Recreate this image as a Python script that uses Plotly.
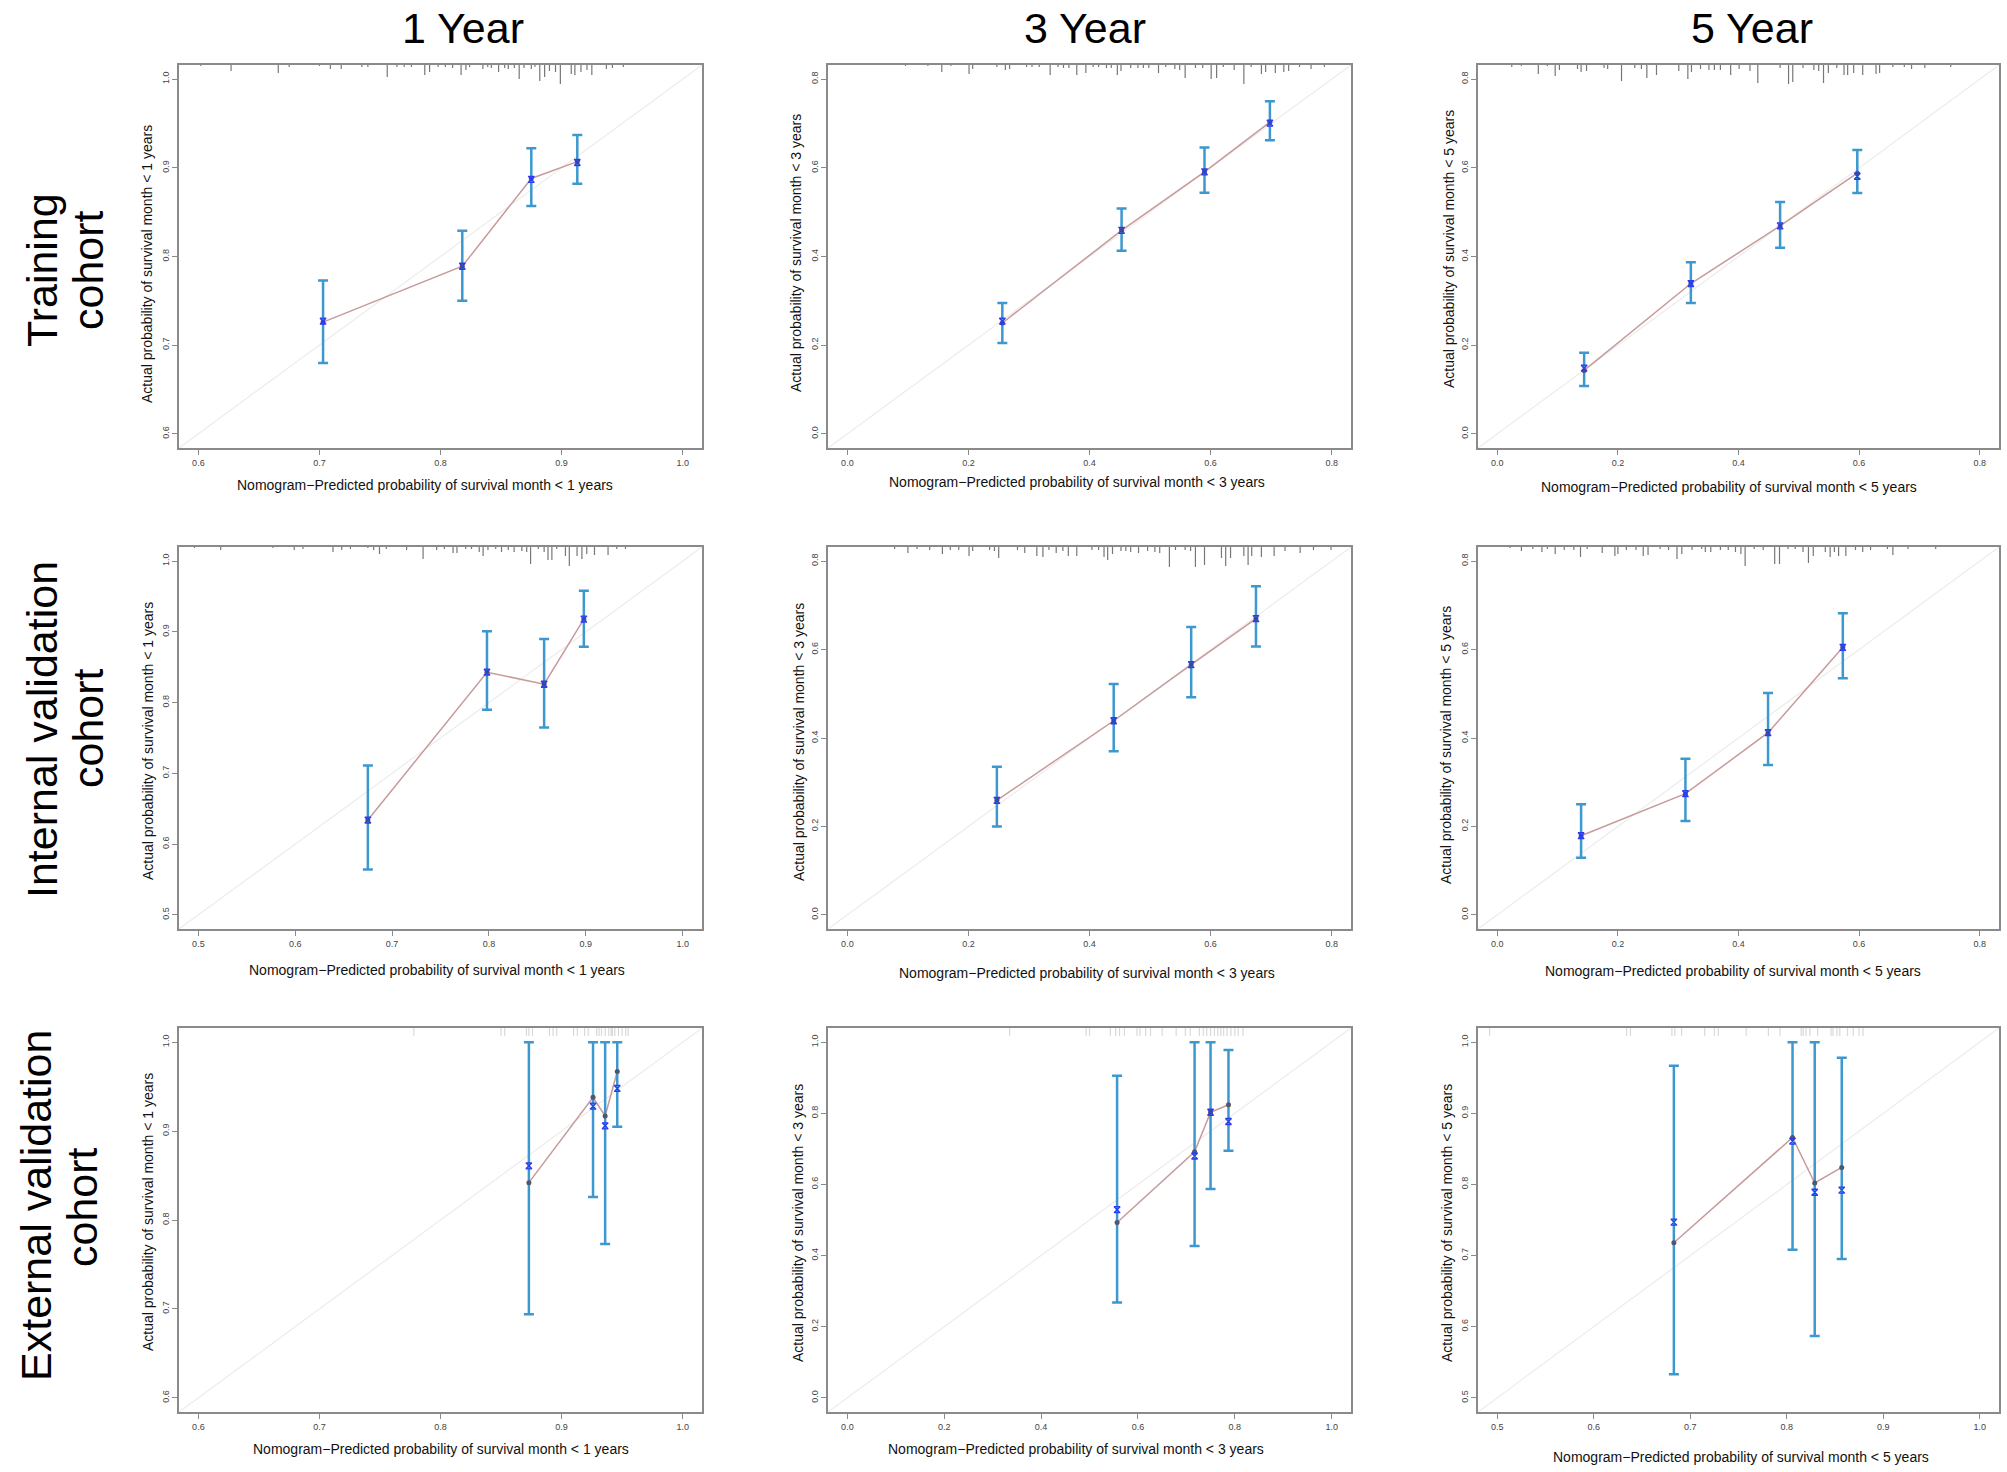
import plotly.graph_objects as go

# ====================== DATA ======================
col_titles = ["1 Year", "3 Year", "5 Year"]
row_title_lines = [["Training", "cohort"],
                   ["Internal validation", "cohort"],
                   ["External validation", "cohort"]]
horizon_labels = ["1", "3", "5"]

# axis limits (R adds 4% padding) and tick values, per column/row
lim_t = [[0.6, 1.0], [0.0, 0.8], [0.0, 0.8]]
lim_i = [[0.5, 1.0], [0.0, 0.8], [0.0, 0.8]]
lim_e = [[0.6, 1.0], [0.0, 1.0], [0.5, 1.0]]
ticks_t = [[0.6, 0.7, 0.8, 0.9, 1.0], [0.0, 0.2, 0.4, 0.6, 0.8], [0.0, 0.2, 0.4, 0.6, 0.8]]
ticks_i = [[0.5, 0.6, 0.7, 0.8, 0.9, 1.0], [0.0, 0.2, 0.4, 0.6, 0.8], [0.0, 0.2, 0.4, 0.6, 0.8]]
ticks_e = [[0.6, 0.7, 0.8, 0.9, 1.0], [0.0, 0.2, 0.4, 0.6, 0.8, 1.0], [0.5, 0.6, 0.7, 0.8, 0.9, 1.0]]

# ---- Training cohort ----
t1_pred = [0.703, 0.818, 0.875, 0.913]
t1_obs = [0.726, 0.789, 0.888, 0.907]
t1_corr = [0.727, 0.789, 0.887, 0.906]
t1_lo = [0.680, 0.750, 0.857, 0.882]
t1_hi = [0.773, 0.829, 0.922, 0.937]
t1_rug_x = [0.602, 0.627, 0.666, 0.675, 0.700, 0.709, 0.718, 0.735, 0.740, 0.756, 0.764, 0.770,
            0.776, 0.787, 0.791, 0.798, 0.804, 0.810, 0.817, 0.821, 0.824, 0.835, 0.839, 0.842,
            0.848, 0.853, 0.856, 0.861, 0.865, 0.869, 0.875, 0.878, 0.882, 0.886, 0.890, 0.895,
            0.899, 0.908, 0.911, 0.916, 0.921, 0.925, 0.937, 0.942, 0.951]
t1_rug_n = [1, 6, 8, 2, 1, 4, 4, 2, 2, 12, 2, 2, 2, 10, 7, 2, 2, 3, 10, 5, 2, 4, 2, 3, 7, 3, 4, 3,
            14, 3, 4, 2, 16, 12, 6, 7, 19, 9, 10, 7, 5, 10, 4, 3, 2]

t3_pred = [0.256, 0.453, 0.590, 0.698]
t3_obs = [0.250, 0.459, 0.591, 0.703]
t3_corr = [0.254, 0.459, 0.591, 0.701]
t3_lo = [0.205, 0.413, 0.544, 0.662]
t3_hi = [0.295, 0.508, 0.646, 0.750]
t3_rug_x = [0.096, 0.133, 0.156, 0.171, 0.201, 0.207, 0.247, 0.261, 0.268, 0.296, 0.305, 0.317,
            0.335, 0.348, 0.357, 0.366, 0.379, 0.394, 0.406, 0.415, 0.428, 0.436, 0.446, 0.452,
            0.468, 0.480, 0.489, 0.498, 0.514, 0.526, 0.541, 0.549, 0.558, 0.575, 0.587, 0.601,
            0.610, 0.621, 0.639, 0.655, 0.667, 0.684, 0.691, 0.707, 0.721, 0.729, 0.747, 0.766, 0.788]
t3_rug_n = [1, 1, 7, 1, 9, 4, 2, 5, 4, 2, 2, 2, 10, 2, 3, 3, 10, 8, 2, 2, 3, 3, 10, 6, 3, 3, 3, 3,
            8, 2, 4, 5, 13, 3, 3, 14, 13, 2, 5, 19, 2, 9, 7, 8, 7, 6, 2, 4, 2]

t5_pred = [0.144, 0.321, 0.469, 0.597]
t5_obs = [0.143, 0.339, 0.469, 0.588]
t5_corr = [0.148, 0.339, 0.469, 0.581]
t5_lo = [0.108, 0.295, 0.420, 0.543]
t5_hi = [0.183, 0.387, 0.523, 0.640]
t5_rug_x = [0.024, 0.040, 0.068, 0.083, 0.096, 0.103, 0.133, 0.139, 0.148, 0.177, 0.183, 0.206,
            0.228, 0.239, 0.248, 0.264, 0.301, 0.316, 0.322, 0.337, 0.351, 0.360, 0.370, 0.387,
            0.401, 0.419, 0.432, 0.469, 0.483, 0.490, 0.507, 0.525, 0.533, 0.541, 0.549, 0.563,
            0.575, 0.581, 0.591, 0.606, 0.628, 0.634, 0.656, 0.675, 0.687, 0.709, 0.752]
t5_rug_n = [2, 1, 9, 1, 11, 5, 4, 7, 6, 3, 4, 16, 3, 4, 13, 10, 6, 14, 7, 4, 5, 5, 5, 10, 4, 6, 18,
            3, 19, 17, 3, 5, 6, 18, 8, 3, 10, 10, 8, 10, 9, 8, 2, 2, 4, 3, 2]

# ---- Internal validation cohort ----
i1_pred = [0.675, 0.798, 0.857, 0.898]
i1_obs = [0.634, 0.843, 0.826, 0.918]
i1_corr = [0.634, 0.843, 0.826, 0.918]
i1_lo = [0.564, 0.790, 0.765, 0.879]
i1_hi = [0.711, 0.901, 0.890, 0.958]
i1_rug_x = [0.496, 0.523, 0.577, 0.599, 0.608, 0.639, 0.648, 0.657, 0.675, 0.681, 0.687, 0.694,
            0.715, 0.732, 0.746, 0.754, 0.763, 0.767, 0.776, 0.782, 0.790, 0.794, 0.799, 0.807,
            0.813, 0.820, 0.826, 0.834, 0.839, 0.843, 0.851, 0.857, 0.861, 0.865, 0.870, 0.879,
            0.883, 0.891, 0.896, 0.901, 0.909, 0.923, 0.932, 0.941]
i1_rug_n = [1, 3, 1, 3, 2, 5, 3, 2, 1, 3, 7, 2, 3, 12, 3, 2, 6, 6, 2, 2, 5, 9, 3, 2, 5, 3, 5, 4, 5,
            17, 2, 5, 13, 13, 2, 9, 19, 9, 12, 7, 8, 8, 2, 2]

i3_pred = [0.247, 0.440, 0.568, 0.675]
i3_obs = [0.259, 0.439, 0.566, 0.670]
i3_corr = [0.259, 0.439, 0.566, 0.670]
i3_lo = [0.200, 0.370, 0.492, 0.607]
i3_hi = [0.335, 0.522, 0.651, 0.743]
i3_rug_x = [0.078, 0.100, 0.115, 0.136, 0.157, 0.170, 0.184, 0.201, 0.207, 0.235, 0.243, 0.250,
            0.281, 0.293, 0.313, 0.323, 0.333, 0.345, 0.356, 0.365, 0.379, 0.404, 0.415, 0.424,
            0.430, 0.438, 0.452, 0.460, 0.468, 0.481, 0.496, 0.508, 0.516, 0.532, 0.542, 0.558,
            0.567, 0.575, 0.590, 0.618, 0.625, 0.633, 0.655, 0.662, 0.668, 0.684, 0.705, 0.723,
            0.748, 0.770, 0.799]
i3_rug_n = [2, 6, 2, 3, 7, 3, 3, 9, 4, 3, 4, 11, 3, 6, 9, 10, 3, 6, 4, 9, 9, 3, 3, 10, 13, 7, 4, 4,
            5, 6, 4, 5, 6, 20, 3, 3, 4, 20, 18, 11, 19, 11, 9, 18, 9, 10, 9, 4, 6, 3, 3]

i5_pred = [0.139, 0.312, 0.449, 0.573]
i5_obs = [0.179, 0.274, 0.412, 0.605]
i5_corr = [0.179, 0.274, 0.412, 0.605]
i5_lo = [0.129, 0.212, 0.339, 0.535]
i5_hi = [0.250, 0.353, 0.502, 0.682]
i5_rug_x = [0.021, 0.040, 0.059, 0.074, 0.083, 0.096, 0.111, 0.127, 0.138, 0.149, 0.174, 0.195,
            0.200, 0.214, 0.230, 0.242, 0.250, 0.270, 0.284, 0.298, 0.306, 0.323, 0.339, 0.345,
            0.354, 0.370, 0.383, 0.395, 0.404, 0.411, 0.426, 0.441, 0.460, 0.468, 0.482, 0.494,
            0.507, 0.516, 0.524, 0.544, 0.552, 0.559, 0.566, 0.578, 0.594, 0.606, 0.619, 0.647,
            0.656, 0.681, 0.727]
i5_rug_n = [1, 4, 2, 5, 2, 7, 3, 3, 10, 2, 6, 9, 7, 3, 3, 9, 8, 2, 3, 12, 7, 3, 2, 5, 5, 3, 3, 5, 7,
            19, 2, 3, 17, 17, 2, 2, 5, 16, 9, 5, 10, 5, 9, 9, 3, 5, 3, 2, 8, 2, 2]

# ---- External validation cohort ----
e1_pred = [0.873, 0.926, 0.936, 0.946]
e1_obs = [0.842, 0.938, 0.917, 0.967]
e1_corr = [0.861, 0.928, 0.906, 0.948]
e1_lo = [0.694, 0.826, 0.773, 0.905]
e1_hi = [1.000, 1.000, 1.000, 1.000]
e1_rug_x = [0.778, 0.850, 0.853, 0.871, 0.873, 0.876, 0.890, 0.893, 0.896, 0.910, 0.913, 0.919,
            0.922, 0.929, 0.931, 0.933, 0.936, 0.939, 0.941, 0.942, 0.944, 0.947, 0.950, 0.953, 0.955]

e3_pred = [0.557, 0.717, 0.750, 0.787]
e3_obs = [0.493, 0.692, 0.803, 0.824]
e3_corr = [0.529, 0.680, 0.803, 0.777]
e3_lo = [0.268, 0.427, 0.587, 0.695]
e3_hi = [0.906, 1.000, 1.000, 0.978]
e3_rug_x = [0.335, 0.493, 0.500, 0.543, 0.554, 0.562, 0.572, 0.598, 0.604, 0.616, 0.626, 0.650,
            0.679, 0.698, 0.708, 0.727, 0.735, 0.742, 0.750, 0.758, 0.765, 0.771, 0.777, 0.784,
            0.792, 0.800, 0.807, 0.817]

e5_pred = [0.683, 0.806, 0.829, 0.857]
e5_obs = [0.718, 0.866, 0.802, 0.824]
e5_corr = [0.747, 0.861, 0.789, 0.792]
e5_lo = [0.533, 0.708, 0.587, 0.695]
e5_hi = [0.967, 1.000, 1.000, 0.978]
e5_rug_x = [0.492, 0.634, 0.638, 0.681, 0.684, 0.691, 0.715, 0.725, 0.729, 0.758, 0.781, 0.793,
            0.815, 0.817, 0.820, 0.824, 0.832, 0.846, 0.848, 0.852, 0.855, 0.863, 0.869, 0.875, 0.879]

# ====================== LAYOUT / STYLE ======================
W, H = 2007, 1472
COL_X0 = [179, 828, 1478]
COL_X1 = [702, 1351, 1999]
ROW_Y0 = [65, 547, 1028]
ROW_Y1 = [448, 929, 1412]

XT_POS = [[(425, 485), (1077, 482), (1729, 487)],
          [(437, 970), (1087, 973), (1733, 971)],
          [(441, 1449), (1076, 1449), (1741, 1457)]]
YT_POS = [[(147, 264), (796, 253), (1449, 249)],
          [(148, 741), (799, 742), (1446, 745)],
          [(148, 1212), (798, 1223), (1447, 1223)]]
COL_T_POS = [(463, 28), (1085, 28), (1752, 28)]
ROW_T_POS = [[(42, 270), (88, 270)], [(42, 730), (88, 728)], [(36, 1206), (82, 1207)]]

BASE_FONT = "Liberation Sans, Arial, sans-serif"
NARROW_FONT = "Liberation Sans Narrow, Arial Narrow, Liberation Sans, sans-serif"
BOX_COLOR = "#8a8a8a"
DIAG_COLOR = "#ececec"
LINE_COLOR = "#c89a9a"
ERR_COLOR = "#3c98cf"
DOT_COLOR = "#555566"
CORR_COLOR = "#2a3cf0"
RUG_COLOR = "#777777"
RUG_LIGHT = "rgba(185,185,185,0.55)"
RUG_PX_PER_COUNT = 1.0
EXT_RUG_PX = 8

panels = [
    dict(r=0, c=0, lim=lim_t[0], ticks=ticks_t[0], pred=t1_pred, obs=t1_obs, corr=t1_corr, lo=t1_lo, hi=t1_hi, rug_x=t1_rug_x, rug_n=t1_rug_n),
    dict(r=0, c=1, lim=lim_t[1], ticks=ticks_t[1], pred=t3_pred, obs=t3_obs, corr=t3_corr, lo=t3_lo, hi=t3_hi, rug_x=t3_rug_x, rug_n=t3_rug_n),
    dict(r=0, c=2, lim=lim_t[2], ticks=ticks_t[2], pred=t5_pred, obs=t5_obs, corr=t5_corr, lo=t5_lo, hi=t5_hi, rug_x=t5_rug_x, rug_n=t5_rug_n),
    dict(r=1, c=0, lim=lim_i[0], ticks=ticks_i[0], pred=i1_pred, obs=i1_obs, corr=i1_corr, lo=i1_lo, hi=i1_hi, rug_x=i1_rug_x, rug_n=i1_rug_n),
    dict(r=1, c=1, lim=lim_i[1], ticks=ticks_i[1], pred=i3_pred, obs=i3_obs, corr=i3_corr, lo=i3_lo, hi=i3_hi, rug_x=i3_rug_x, rug_n=i3_rug_n),
    dict(r=1, c=2, lim=lim_i[2], ticks=ticks_i[2], pred=i5_pred, obs=i5_obs, corr=i5_corr, lo=i5_lo, hi=i5_hi, rug_x=i5_rug_x, rug_n=i5_rug_n),
    dict(r=2, c=0, lim=lim_e[0], ticks=ticks_e[0], pred=e1_pred, obs=e1_obs, corr=e1_corr, lo=e1_lo, hi=e1_hi, rug_x=e1_rug_x, rug_n=None),
    dict(r=2, c=1, lim=lim_e[1], ticks=ticks_e[1], pred=e3_pred, obs=e3_obs, corr=e3_corr, lo=e3_lo, hi=e3_hi, rug_x=e3_rug_x, rug_n=None),
    dict(r=2, c=2, lim=lim_e[2], ticks=ticks_e[2], pred=e5_pred, obs=e5_obs, corr=e5_corr, lo=e5_lo, hi=e5_hi, rug_x=e5_rug_x, rug_n=None),
]

fig = go.Figure()
layout_upd = {}
annotations = []

for k, p in enumerate(panels):
    idx = k + 1
    sfx = "" if idx == 1 else str(idx)
    xref, yref = "x" + sfx, "y" + sfx
    r, c = p["r"], p["c"]
    a, b = p["lim"]
    pad = 0.04 * (b - a)
    rng = [a - pad, b + pad]
    x0, x1 = COL_X0[c], COL_X1[c]
    y0, y1 = ROW_Y0[r], ROW_Y1[r]
    plot_h = y1 - y0
    data_per_px = (rng[1] - rng[0]) / plot_h

    common = dict(range=rng, tickvals=p["ticks"], tickformat=".1f", ticks="outside", ticklen=5,
                  tickwidth=1, tickcolor=BOX_COLOR, showline=True, linecolor=BOX_COLOR,
                  linewidth=1.5, mirror=True, showgrid=False, zeroline=False,
                  tickfont=dict(family=BASE_FONT, size=9, color="#444444"))
    layout_upd["xaxis" + sfx] = dict(domain=[x0 / W, x1 / W], anchor=yref, **common)
    layout_upd["yaxis" + sfx] = dict(domain=[1 - y1 / H, 1 - y0 / H], anchor=xref,
                                     tickangle=-90, **common)

    # ideal (diagonal) line
    fig.add_trace(go.Scatter(x=rng, y=rng, mode="lines", xaxis=xref, yaxis=yref,
                             line=dict(color=DIAG_COLOR, width=1.2), hoverinfo="skip"))

    # distribution of predicted risk along the top
    rx, ry = [], []
    if p["rug_n"] is not None:
        for xv, nv in zip(p["rug_x"], p["rug_n"]):
            rx += [xv, xv, None]
            ry += [rng[1], rng[1] - nv * RUG_PX_PER_COUNT * data_per_px, None]
        rcol, rw = RUG_COLOR, 1.2
    else:
        for xv in p["rug_x"]:
            rx += [xv, xv, None]
            ry += [rng[1], rng[1] - EXT_RUG_PX * data_per_px, None]
        rcol, rw = RUG_LIGHT, 1.2
    fig.add_trace(go.Scatter(x=rx, y=ry, mode="lines", xaxis=xref, yaxis=yref,
                             line=dict(color=rcol, width=rw), hoverinfo="skip"))

    # observed connecting line
    fig.add_trace(go.Scatter(x=p["pred"], y=p["obs"], mode="lines", xaxis=xref, yaxis=yref,
                             line=dict(color=LINE_COLOR, width=1.5)))

    # observed points with confidence intervals
    err_plus = [h - o for h, o in zip(p["hi"], p["obs"])]
    err_minus = [o - l for o, l in zip(p["obs"], p["lo"])]
    fig.add_trace(go.Scatter(x=p["pred"], y=p["obs"], mode="markers", xaxis=xref, yaxis=yref,
                             marker=dict(color=DOT_COLOR, size=5),
                             error_y=dict(type="data", symmetric=False, array=err_plus,
                                          arrayminus=err_minus, color=ERR_COLOR,
                                          thickness=2.5, width=5)))

    # bias-corrected estimates
    fig.add_trace(go.Scatter(x=p["pred"], y=p["corr"], mode="markers", xaxis=xref, yaxis=yref,
                             marker=dict(symbol="hourglass-open", color=CORR_COLOR, size=6,
                                         line=dict(width=1.3, color=CORR_COLOR))))

    # axis titles
    h = horizon_labels[c]
    xt = XT_POS[r][c]
    annotations.append(dict(text=f"Nomogram\u2212Predicted probability of survival month &lt; {h} years",
                            x=xt[0] / W, y=1 - xt[1] / H, xref="paper", yref="paper",
                            showarrow=False, xanchor="center", yanchor="middle",
                            font=dict(family=BASE_FONT, size=14, color="#111111")))
    yt = YT_POS[r][c]
    annotations.append(dict(text=f"Actual probability of survival month &lt; {h} years",
                            x=yt[0] / W, y=1 - yt[1] / H, xref="paper", yref="paper",
                            showarrow=False, xanchor="center", yanchor="middle", textangle=-90,
                            font=dict(family=BASE_FONT, size=14, color="#111111")))

for c, t in enumerate(col_titles):
    px, py = COL_T_POS[c]
    annotations.append(dict(text=t, x=px / W, y=1 - py / H, xref="paper", yref="paper",
                            showarrow=False, xanchor="center", yanchor="middle",
                            font=dict(family=NARROW_FONT, size=43, color="#000000")))
for r, lines in enumerate(row_title_lines):
    for j, t in enumerate(lines):
        px, py = ROW_T_POS[r][j]
        annotations.append(dict(text=t, x=px / W, y=1 - py / H, xref="paper", yref="paper",
                                showarrow=False, xanchor="center", yanchor="middle", textangle=-90,
                                font=dict(family=NARROW_FONT, size=43, color="#000000")))

fig.update_layout(width=W, height=H, margin=dict(l=0, r=0, t=0, b=0),
                  paper_bgcolor="white", plot_bgcolor="white", showlegend=False,
                  annotations=annotations, **layout_upd)

fig.write_html("out.html", config={"displayModeBar": False},
               post_script="document.body.style.margin='0';document.body.style.overflow='hidden';")
